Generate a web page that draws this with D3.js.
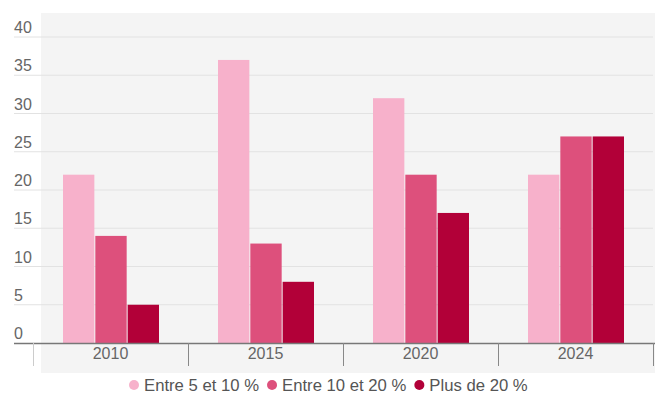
<!DOCTYPE html>
<html>
<head>
<meta charset="utf-8">
<script src="https://cdn.jsdelivr.net/npm/d3@7/dist/d3.min.js"></script>
<style>
  body { margin: 0; background: #fff; }
  text { font-family: "Liberation Sans", Arial, sans-serif; }
</style>
</head>
<body>
<svg id="chart" width="656" height="397"></svg>
<script>
var years = ["2010", "2015", "2020", "2024"];
var seriesNames = ["Entre 5 et 10 %", "Entre 10 et 20 %", "Plus de 20 %"];
var seriesColors = ["#f7b1cb", "#dd507c", "#b20038"];
var entre5et10 = [22, 37, 32, 22];
var entre10et20 = [14, 13, 22, 27];
var plusDe20 = [5, 8, 17, 27];
var yTicks = [0, 5, 10, 15, 20, 25, 30, 35, 40];

var series = [entre5et10, entre10et20, plusDe20];

var svg = d3.select("#chart");

// grey panel behind the plot
svg.append("rect")
  .attr("x", 41).attr("y", 13)
  .attr("width", 614).attr("height", 360)
  .attr("fill", "#f4f4f4");

var x = d3.scaleBand()
  .domain(years)
  .range([33, 653]);

var x1 = d3.scaleBand()
  .domain(d3.range(series.length))
  .range([30, 126])
  .paddingInner(0.03);

var y = d3.scaleLinear()
  .domain([0, 40])
  .range([343, 37]);

// horizontal gridlines + labels
var grid = svg.append("g");
grid.selectAll("line")
  .data(yTicks.filter(function(d) { return d > 0; }))
  .enter().append("line")
  .attr("x1", 14).attr("x2", 653)
  .attr("y1", function(d) { return y(d); })
  .attr("y2", function(d) { return y(d); })
  .attr("stroke", "#e2e2e2")
  .attr("stroke-width", 1);

grid.selectAll("text")
  .data(yTicks)
  .enter().append("text")
  .attr("x", 14)
  .attr("y", function(d) { return y(d) - 4; })
  .attr("fill", "#666")
  .attr("font-size", "16px")
  .text(function(d) { return d; });

// bars
var groups = svg.selectAll(".year")
  .data(years)
  .enter().append("g")
  .attr("class", "year")
  .attr("transform", function(d) { return "translate(" + x(d) + ",0)"; });

groups.selectAll("rect")
  .data(function(d, i) {
    return series.map(function(s, k) { return { k: k, v: s[i] }; });
  })
  .enter().append("rect")
  .attr("x", function(d) { return x1(d.k); })
  .attr("width", x1.bandwidth())
  .attr("y", function(d) { return y(d.v); })
  .attr("height", function(d) { return y(0) - y(d.v); })
  .attr("fill", function(d) { return seriesColors[d.k]; });

// x axis baseline and ticks
svg.append("line")
  .attr("x1", 14).attr("x2", 655)
  .attr("y1", y(0) + 0.5).attr("y2", y(0) + 0.5)
  .attr("stroke", "#777").attr("stroke-width", 1.3);

var tickPos = years.map(function(d) { return x(d); }).concat([x.range()[1]]);
svg.selectAll(".xtick")
  .data(tickPos)
  .enter().append("line")
  .attr("class", "xtick")
  .attr("x1", function(d) { return d + 0.5; })
  .attr("x2", function(d) { return d + 0.5; })
  .attr("y1", y(0)).attr("y2", 366)
  .attr("stroke", function(d, i) { return i === 0 ? "#ccc" : "#888"; });

svg.selectAll(".xlabel")
  .data(years)
  .enter().append("text")
  .attr("class", "xlabel")
  .attr("x", function(d) { return x(d) + x.bandwidth() / 2; })
  .attr("y", 359)
  .attr("text-anchor", "middle")
  .attr("fill", "#666")
  .attr("font-size", "16px")
  .text(function(d) { return d; });

// legend
var legend = svg.append("g");
var lx = 134;
seriesNames.forEach(function(name, i) {
  legend.append("circle")
    .attr("cx", lx).attr("cy", 385)
    .attr("r", 5)
    .attr("fill", seriesColors[i]);
  var t = legend.append("text")
    .attr("x", lx + 10).attr("y", 391)
    .attr("fill", "#555")
    .attr("font-size", "16.7px")
    .text(name);
  lx += t.node().getComputedTextLength() + 23;
});
</script>
</body>
</html>
